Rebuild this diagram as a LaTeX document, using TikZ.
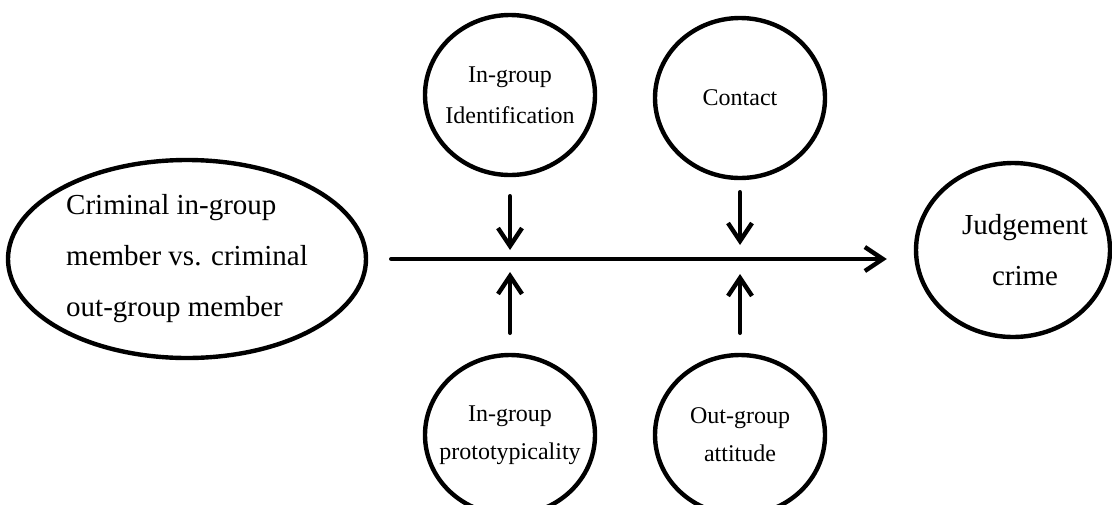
\documentclass[tikz,border=0pt]{standalone}
\usepackage{fontspec}
\setmainfont{Liberation Serif}
\usetikzlibrary{shapes.geometric, arrows.meta, positioning}

\begin{document}
\begin{tikzpicture}[x=0.5pt, y=-0.5pt]
        % --- estilos ---
        \tikzstyle{bubble} = [
            ellipse,
            draw=black,
            line width=2.2pt,
            inner xsep=-6pt,
            inner ysep=0pt,
            align=center,
            minimum width=85pt,
            minimum height=80pt,
            font=\fontsize{12}{20.5}\selectfont
        ]
        \tikzstyle{bigbubble} = [bubble, font=\fontsize{14.5}{25.5}\selectfont]
        \tikzstyle{arrow} = [line width=2.2pt, line cap=round, -{Straight Barb[length=9pt,width=12pt]}]

        \useasboundingbox (0,0) rectangle (1112,504);

        % --- nós ---
        \node (crim) [bigbubble, minimum width=179pt, minimum height=99pt, align=left] at (187,259)
            {Criminal in-group\\member vs. criminal\\out-group member};
        \node (judg) [bigbubble, minimum width=97pt, minimum height=87pt] at (1013,250)
            {\hspace*{12pt}Judgement\\\hspace*{12pt}crime};
        \node (ident) [bubble] at (510,95) {In-group\\Identification};
        \node (cont) [bubble] at (740,98) {Contact};
        \node (proto) [bubble, font=\fontsize{12}{19}\selectfont] at (510,435) {In-group\\prototypicality};
        \node (attit) [bubble, font=\fontsize{12}{19}\selectfont] at (740,435) {Out-group\\attitude};

        \coordinate (tl) at (510,250);
        \coordinate (tr) at (740,245);
        \coordinate (bl) at (510,272);
        \coordinate (br) at (740,274);

        % --- conexões ---
        \draw [arrow, shorten <=11.5pt, shorten >=13.5pt] (crim.east) -- (crim.east -| judg.west);
        \draw [arrow, shorten <=9.5pt] (ident.south) -- (tl);
        \draw [arrow, shorten <=6pt] (cont.south) -- (tr);
        \draw [arrow, shorten <=10pt] (proto.north) -- (bl);
        \draw [arrow, shorten <=10pt] (attit.north) -- (br);
    \end{tikzpicture}
\end{document}
